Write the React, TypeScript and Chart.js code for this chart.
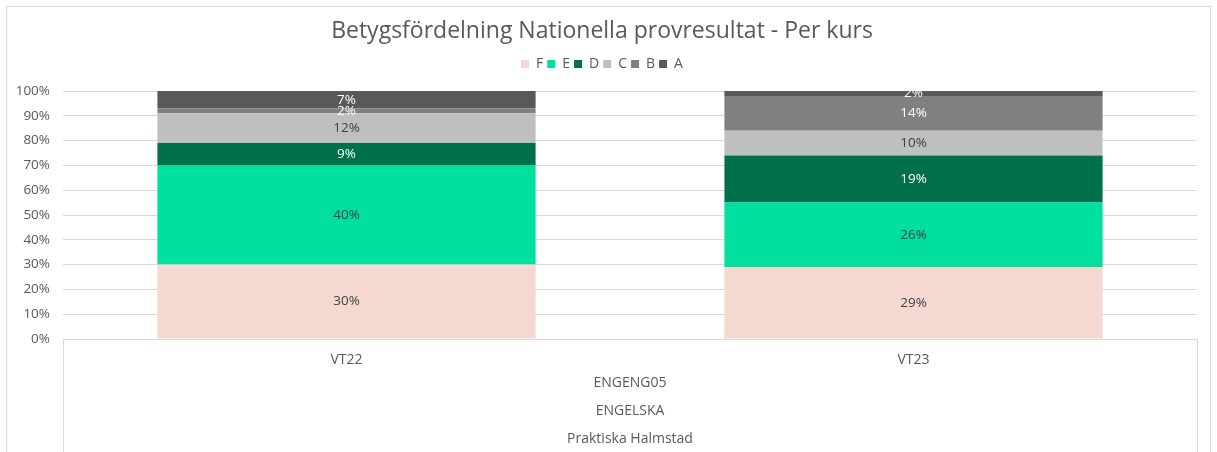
import React, { useEffect, useRef } from "react";
import { Chart, registerables } from "chart.js";

Chart.register(...registerables);

const categories = ["VT22", "VT23"];
const groupLabels = ["ENGENG05", "ENGELSKA", "Praktiska Halmstad"];
const titleText = "Betygsfördelning Nationella provresultat - Per kurs";
const gradeNames = ["F", "E", "D", "C", "B", "A"];
const gradeF = [30, 29];
const gradeE = [40, 26];
const gradeD = [9, 19];
const gradeC = [12, 10];
const gradeB = [2, 14];
const gradeA = [7, 2];
const gradeColors = ["#F5D8D0", "#00DF9E", "#00704A", "#BFBFBF", "#808080", "#595959"];
const labelColors = ["#404040", "#404040", "#FFFFFF", "#404040", "#FFFFFF", "#FFFFFF"];

const FONT = "'Open Sans', Lato, sans-serif";
const GREY = "#595959";
const LINE = "#D9D9D9";

export default function App() {
  const ref = useRef<HTMLCanvasElement>(null);

  useEffect(() => {
    document.body.style.margin = "0";
    const series = [gradeF, gradeE, gradeD, gradeC, gradeB, gradeA];
    const valueLabels = {
      id: "valueLabels",
      afterDatasetsDraw(chart: any) {
        const ctx = chart.ctx;
        ctx.save();
        ctx.font = `13.5px ${FONT}`;
        ctx.textAlign = "center";
        ctx.textBaseline = "middle";
        chart.data.datasets.forEach((ds: any, i: number) => {
          const meta = chart.getDatasetMeta(i);
          meta.data.forEach((bar: any, j: number) => {
            const v = ds.data[j];
            if (v == null) return;
            ctx.fillStyle = labelColors[i];
            ctx.fillText(v + "%", bar.x, (bar.y + bar.base) / 2);
          });
        });
        ctx.restore();
      },
    };
    const axisBox = {
      id: "axisBox",
      afterDraw(chart: any) {
        const { ctx, chartArea } = chart;
        ctx.save();
        ctx.strokeStyle = LINE;
        ctx.lineWidth = 1;
        ctx.beginPath();
        const l = Math.round(chartArea.left) + 0.5;
        const r = Math.round(chartArea.right) + 0.5;
        ctx.moveTo(l, chartArea.bottom);
        ctx.lineTo(l, chart.height);
        ctx.moveTo(r, chartArea.bottom);
        ctx.lineTo(r, chart.height);
        ctx.stroke();
        ctx.restore();
      },
    };
    const legendMargin = {
      id: "legendMargin",
      beforeInit(chart: any) {
        const orig = chart.legend.fit;
        chart.legend.fit = function () {
          orig.bind(chart.legend)();
          this.height += 10;
        };
      },
    };

    const chart = new Chart(ref.current!, {
      type: "bar",
      data: {
        labels: categories,
        datasets: series.map((d, i) => ({
          label: gradeNames[i],
          data: d,
          backgroundColor: gradeColors[i],
          borderWidth: 0,
          barPercentage: 0.667,
          categoryPercentage: 1,
        })),
      },
      options: {
        animation: false,
        responsive: false,
        maintainAspectRatio: false,
        layout: { padding: { left: 0, right: 13, top: 0, bottom: 0 } },
        plugins: {
          tooltip: { enabled: false },
          title: {
            display: true,
            text: titleText,
            color: GREY,
            font: { family: FONT, size: 23, weight: "normal", lineHeight: 1.2 },
            padding: { top: 11, bottom: 7.4 },
          },
          legend: {
            display: true,
            position: "top",
            labels: {
              boxWidth: 8,
              boxHeight: 8,
              padding: 4,
              color: GREY,
              font: { family: FONT, size: 14 },
            },
          },
        },
        scales: {
          x: {
            stacked: true,
            grid: { display: false, drawTicks: false },
            border: { display: true, color: LINE },
            ticks: { color: GREY, font: { family: FONT, size: 14 }, padding: 13 },
            title: {
              display: true,
              text: groupLabels,
              color: GREY,
              font: { family: FONT, size: 14, lineHeight: "28px" },
              padding: { top: 0, bottom: 32 },
            },
            afterFit(scale: any) {
              scale.height = 146;
            },
          },
          y: {
            stacked: true,
            min: 0,
            max: 100,
            grid: { color: LINE, drawTicks: false },
            border: { display: false },
            ticks: {
              stepSize: 10,
              color: GREY,
              font: { family: FONT, size: 13.5 },
              padding: 13,
              callback: (v: any) => v + "%",
            },
            afterFit(scale: any) {
              scale.width = 56;
            },
          },
        },
      },
      plugins: [valueLabels, axisBox, legendMargin],
    } as any);
    return () => chart.destroy();
  }, []);

  return (
    <div style={{ position: "fixed", left: 0, top: 0, width: 1217, height: 452, overflow: "hidden", background: "#fff" }}>
      <div
        style={{
          position: "absolute",
          left: 6,
          top: 6,
          width: 1205,
          height: 480,
          border: `1px solid ${LINE}`,
          boxSizing: "border-box",
          background: "#fff",
        }}
      >
        <canvas ref={ref} width={1203} height={478} style={{ display: "block" }} />
      </div>
    </div>
  );
}
